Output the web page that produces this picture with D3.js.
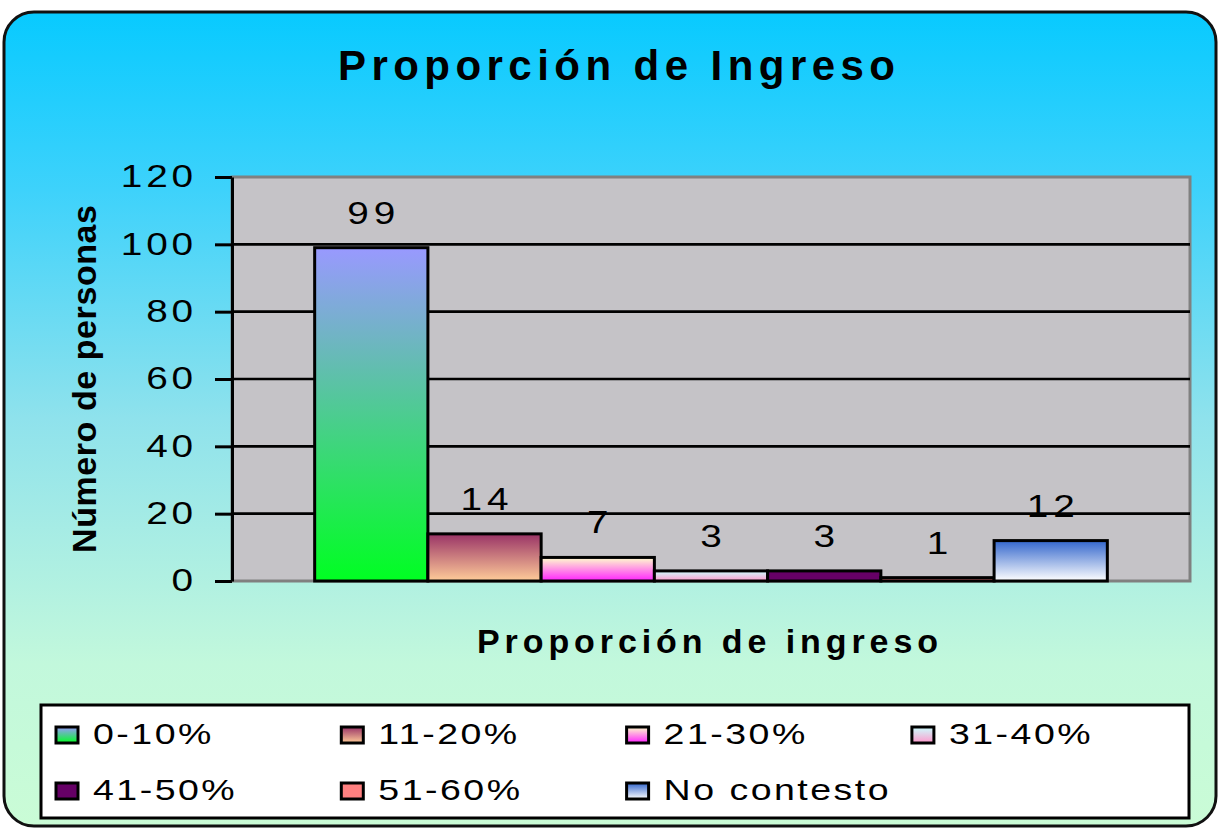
<!DOCTYPE html>
<html><head><meta charset="utf-8">
<script src="https://cdn.jsdelivr.net/npm/d3@7"></script>
<style>body{margin:0;background:#fff}svg{display:block}text{font-family:"Liberation Sans",Arial,sans-serif}</style>
</head><body><svg id="c" width="1220" height="829"></svg>
<script>
// ---- data ----
const categories = ["0-10%","11-20%","21-30%","31-40%","41-50%","51-60%","No contesto"];
const values = [99,14,7,3,3,1,12];
const yTicks = [0,20,40,60,80,100,120];
const titleText = "Proporción de Ingreso";
const xTitleText = "Proporción de ingreso";
const yTitleText = "Número de personas";
// ---- palette ----
const topColors = ["#9999ff","#993366","#ffffcc","#ccffff","#660066","#ff8080","#3366cc"];
const bottomColors = ["#00ff22","#ffcc99","#ff22ff","#ff99cc","#660066","#ff8080","#ffffff"];

const SX = 1.25; // horizontal glyph stretch of the original bitmap font
const svg = d3.select("#c");
const defs = svg.append("defs");
const bg = defs.append("linearGradient").attr("id","bg").attr("x1",0).attr("y1",0).attr("x2",0).attr("y2",1);
[[0,"#08caff"],[0.22,"#3ed2fb"],[0.5,"#8fe2ec"],[0.8,"#c2f8dc"],[1,"#cafcd6"]].forEach(s=>
  bg.append("stop").attr("offset",s[0]).attr("stop-color",s[1]));
categories.forEach((c,i)=>{
  const g = defs.append("linearGradient").attr("id","g"+i).attr("x1",0).attr("y1",0).attr("x2",0).attr("y2",1);
  g.append("stop").attr("offset",0).attr("stop-color",topColors[i]);
  g.append("stop").attr("offset",1).attr("stop-color",bottomColors[i]);
});

// frame
svg.append("rect").attr("x",4).attr("y",12).attr("width",1212).attr("height",814).attr("rx",30)
  .attr("fill","url(#bg)").attr("stroke","#111").attr("stroke-width",3);

// title
svg.append("text").attr("x",616.5).attr("y",80).attr("text-anchor","middle")
  .attr("font-size",42).attr("font-weight","bold").attr("textLength",557).attr("lengthAdjust","spacing")
  .text(titleText);

// scales
const x = d3.scaleBand().domain(categories).range([232,1190]).paddingInner(0).paddingOuter(0.73);
const y = d3.scaleLinear().domain([0,120]).range([581,177]);

// plot area
svg.append("rect").attr("x",232).attr("y",177).attr("width",958).attr("height",404)
  .attr("fill","#c5c3c7").attr("stroke","#808080").attr("stroke-width",3);

// gridlines
svg.append("g").selectAll("line").data(yTicks.filter(t=>t>0&&t<120)).join("line")
  .attr("x1",232).attr("x2",1190).attr("y1",d=>y(d)).attr("y2",d=>y(d))
  .attr("stroke","#000").attr("stroke-width",2.6);

// bars
svg.append("g").selectAll("rect").data(values).join("rect")
  .attr("x",(d,i)=>x(categories[i])).attr("width",x.bandwidth())
  .attr("y",d=>y(d)).attr("height",d=>y(0)-y(d))
  .attr("fill",(d,i)=>"url(#g"+i+")").attr("stroke","#000").attr("stroke-width",3);

// value labels
const vls = 4;
svg.append("g").selectAll("text").data(values).join("text")
  .attr("transform",(d,i)=>`translate(${x(categories[i])+x.bandwidth()/2+vls*SX/2},${y(d)-24}) scale(${SX},1)`)
  .attr("text-anchor","middle").attr("font-size",31).attr("letter-spacing",vls)
  .text(d=>d);

// y axis
const tls = 3;
const ax = svg.append("g").attr("transform","translate(232,0)")
  .call(d3.axisLeft(y).tickValues(yTicks).tickSize(17).tickSizeOuter(0).tickPadding(13));
ax.select(".domain").attr("stroke","#000").attr("stroke-width",3);
ax.selectAll(".tick line").attr("stroke","#000").attr("stroke-width",3);
ax.selectAll(".tick text").attr("x",0).attr("font-size",31).attr("letter-spacing",tls).attr("fill","#000")
  .attr("transform",`translate(${193-232+tls*SX},0) scale(${SX},1)`)
  .style("font-family",'"Liberation Sans",Arial,sans-serif');

// axis titles
svg.append("text").attr("transform","translate(96,379) rotate(-90)").attr("text-anchor","middle")
  .attr("font-size",34).attr("font-weight","bold").attr("textLength",348).attr("lengthAdjust","spacing")
  .text(yTitleText);
svg.append("text").attr("x",707.5).attr("y",653).attr("text-anchor","middle")
  .attr("font-size",34).attr("font-weight","bold").attr("textLength",461).attr("lengthAdjust","spacing")
  .text(xTitleText);

// legend
svg.append("rect").attr("x",41).attr("y",705).attr("width",1148).attr("height",113)
  .attr("fill","#fff").attr("stroke","#000").attr("stroke-width",3);
const lg = svg.append("g").selectAll("g").data(categories).join("g")
  .attr("transform",(d,i)=>`translate(${56+(i%4)*285.3},${i<4?744:800})`);
lg.append("rect").attr("x",0).attr("y",-17).attr("width",22).attr("height",16)
  .attr("fill",(d,i)=>"url(#g"+i+")").attr("stroke","#000").attr("stroke-width",3);
lg.append("text").attr("transform",`translate(37,0) scale(${SX},1)`).attr("font-size",30)
  .attr("letter-spacing",2).text(d=>d);
</script></body></html>
